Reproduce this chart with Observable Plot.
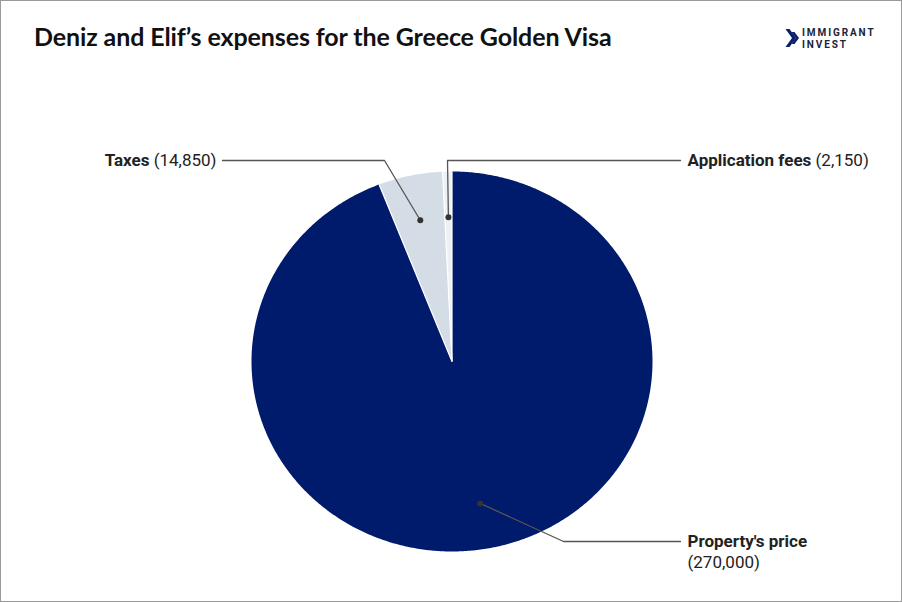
<!DOCTYPE html>
<html>
<head>
<meta charset="utf-8">
<script src="https://cdn.jsdelivr.net/npm/d3@7"></script>
<script src="https://cdn.jsdelivr.net/npm/@observablehq/plot@0.6"></script>
<style>
  html, body { margin: 0; padding: 0; background: #fff; }
  #frame { position: relative; width: 900px; height: 600px; border: 1px solid #9a9a9a; overflow: hidden; background: #fff; }
  #header { position: relative; height: 79px; }
  #title { position: absolute; left: 33px; top: 20px; font-family: Lato, sans-serif; font-weight: 700; font-size: 25px; line-height: 30px; color: #111; white-space: nowrap; letter-spacing: -0.1px; }
  #chev { position: absolute; left: 783px; top: 27px; }
  .ltxt { position: absolute; left: 801px; font-family: Roboto, sans-serif; font-weight: 700; font-size: 10px; line-height: 12px; height: 12px; color: #1a2340; letter-spacing: 1.9px; white-space: nowrap; }
  #chart svg { display: block; }
</style>
</head>
<body>
<div id="frame">
  <div id="header">
    <div id="title">Deniz and Elif’s expenses for the Greece Golden Visa</div>
    <svg id="chev" width="16" height="20" viewBox="0 0 16 20">
      <path d="M1.5 1 L8 10 L1.5 19 L5.5 19 L12 10 L5.5 1 Z" fill="#0b1f6b"/>
      <path d="M7.5 4 L11.8 10 L7.5 16 L10.5 16 L15 10 L10.5 4 Z" fill="#0b1f6b"/>
    </svg>
    <div class="ltxt" style="top:26px">IMMIGRANT</div>
    <div class="ltxt" style="top:38px">INVEST</div>
  </div>
  <div id="chart"></div>
</div>
<script>
// ---- data ----
const categories = ["Property's price", "Taxes", "Application fees"];
const amounts = [270000, 14850, 2150];
const valueLabels = ["(270,000)", "(14,850)", "(2,150)"];
const colors = ["#001a6c", "#d4dde5", "#edf1f4"];

// ---- layout (page pixels) ----
const W = 900, H = 521, HEADER = 80;
const CX = 450.5, CY = 281, RX = 200.5, RY = 190;
const ux = px => (px - 1 - CX) / RX;
const uy = py => (CY - (py - HEADER)) / RY;
// label layout: elbow point, line end, text anchor
const labelLayout = [
  {elbow: [563, 541], end: [680, 541], text: [687, 541], anchor: "start"},
  {elbow: [384, 160], end: [222, 160], text: [216, 160], anchor: "end"},
  {elbow: [447, 160], end: [680, 160], text: [687, 160], anchor: "start"}
];

const pie = d3.pie().sort(null).value(d => d)(amounts);

// slice polygons
const slicePts = [];
pie.forEach((p, i) => {
  slicePts.push({k: i, x: 0, y: 0});
  const n = Math.max(4, Math.ceil((p.endAngle - p.startAngle) / (Math.PI / 360)));
  for (let j = 0; j <= n; j++) {
    const a = p.startAngle + (p.endAngle - p.startAngle) * j / n;
    slicePts.push({k: i, x: Math.sin(a), y: Math.cos(a)});
  }
});
// separators
const seps = pie.map(p => ({x2: Math.sin(p.startAngle), y2: Math.cos(p.startAngle)}));

// dots & leaders
const DOT_R = 0.76;
const dots = pie.map((p, i) => {
  const a = (p.startAngle + p.endAngle) / 2;
  return {k: i, x: DOT_R * Math.sin(a), y: DOT_R * Math.cos(a)};
});
const leaders = [];
dots.forEach((d, i) => {
  const L = labelLayout[i];
  leaders.push({k: i, x: d.x, y: d.y});
  leaders.push({k: i, x: ux(L.elbow[0]), y: uy(L.elbow[1])});
  leaders.push({k: i, x: ux(L.end[0]), y: uy(L.end[1])});
});

// text measurement for mixed-weight labels
const ctx = document.createElement("canvas").getContext("2d");
const FS = 17;
function tw(s, bold) { ctx.font = `${bold ? "bold " : ""}${FS}px Roboto`; return ctx.measureText(s).width; }

const nameLabels = [], valLabels = [];
categories.forEach((c, i) => {
  const L = labelLayout[i];
  const tx = L.text[0], ty = L.text[1];
  if (i === 0) {
    nameLabels.push({x: ux(tx), y: uy(ty), t: c, anchor: "start"});
    valLabels.push({x: ux(tx), y: uy(ty + 21), t: valueLabels[i], anchor: "start"});
  } else if (L.anchor === "end") {
    const vw = tw(" " + valueLabels[i], false);
    valLabels.push({x: ux(tx), y: uy(ty), t: valueLabels[i], anchor: "end"});
    nameLabels.push({x: ux(tx - vw), y: uy(ty), t: c, anchor: "end"});
  } else {
    const nw = tw(c + " ", true);
    nameLabels.push({x: ux(tx), y: uy(ty), t: c, anchor: "start"});
    valLabels.push({x: ux(tx + nw), y: uy(ty), t: valueLabels[i], anchor: "start"});
  }
});

const plot = Plot.plot({
  width: W, height: H,
  margin: 0,
  x: {domain: [-1, 1], range: [CX - RX, CX + RX], axis: null},
  y: {domain: [-1, 1], range: [CY + RY, CY - RY], axis: null},
  style: {fontFamily: "Roboto, sans-serif", background: "#fff"},
  marks: [
    Plot.line(slicePts, {x: "x", y: "y", z: "k", fill: d => colors[d.k], stroke: "none"}),
    Plot.link(seps, {x1: 0, y1: 0, x2: "x2", y2: "y2", stroke: "#fff", strokeWidth: 1.2}),
    Plot.line(leaders, {x: "x", y: "y", z: "k", stroke: "#555", strokeWidth: 1.3, curve: "linear"}),
    Plot.dot(dots, {x: "x", y: "y", r: 3, fill: "#333", stroke: "none"}),
    Plot.text(nameLabels.filter(d => d.anchor === "start"), {x: "x", y: "y", text: "t", textAnchor: "start", fontWeight: "bold", fontSize: FS, fill: "#222"}),
    Plot.text(nameLabels.filter(d => d.anchor === "end"), {x: "x", y: "y", text: "t", textAnchor: "end", fontWeight: "bold", fontSize: FS, fill: "#222"}),
    Plot.text(valLabels.filter(d => d.anchor === "start"), {x: "x", y: "y", text: "t", textAnchor: "start", fontSize: FS, fill: "#222"}),
    Plot.text(valLabels.filter(d => d.anchor === "end"), {x: "x", y: "y", text: "t", textAnchor: "end", fontSize: FS, fill: "#222"})
  ]
});
document.getElementById("chart").appendChild(plot);
</script>
</body>
</html>
